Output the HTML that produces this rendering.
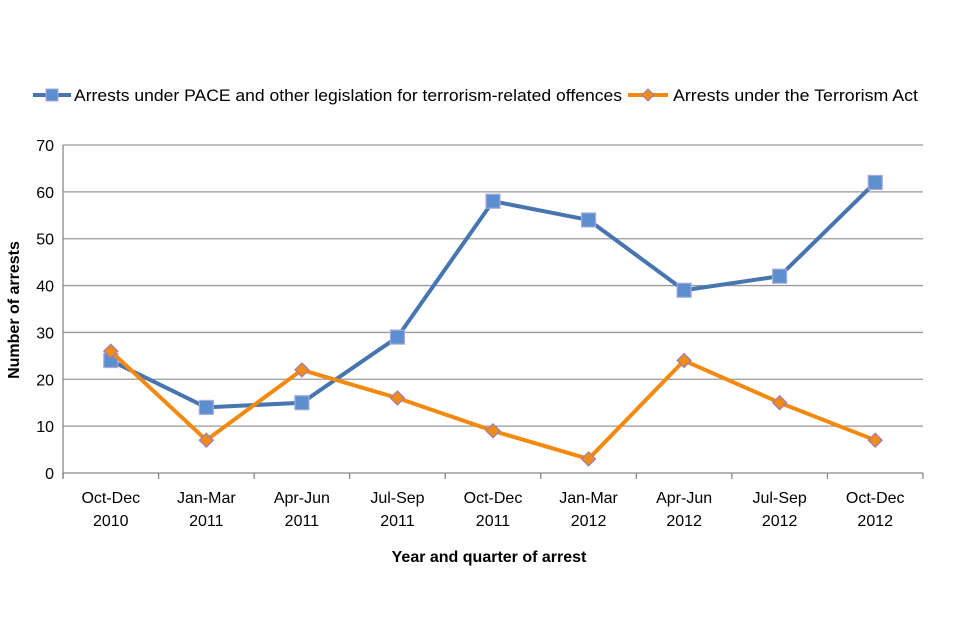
<!DOCTYPE html>
<html><head><meta charset="utf-8"><style>
html,body{margin:0;padding:0;background:#fff;}
svg{display:block;font-family:"Liberation Sans",sans-serif;}
</style></head><body>
<svg id="chart" width="960" height="640" xmlns="http://www.w3.org/2000/svg"></svg>
<script>
const categories = ["Oct-Dec|2010","Jan-Mar|2011","Apr-Jun|2011","Jul-Sep|2011","Oct-Dec|2011","Jan-Mar|2012","Apr-Jun|2012","Jul-Sep|2012","Oct-Dec|2012"];
const paceValues = [24,14,15,29,58,54,39,42,62];
const terrorismActValues = [26,7,22,16,9,3,24,15,7];
const yTicks = [0,10,20,30,40,50,60,70];

const NS="http://www.w3.org/2000/svg";
const svg=document.getElementById('chart');
const L=63,R=923,T=145,B=473,yMax=70;
const band=(R-L)/categories.length;
function x(i){return L+band*(i+0.5);}
function y(v){return B-(v/yMax)*(B-T);}
function mk(tag,attrs,parent){const e=document.createElementNS(NS,tag);for(const k in attrs)e.setAttribute(k,attrs[k]);(parent||svg).appendChild(e);return e;}

const grid=mk('g',{});


yTicks.forEach(t=>{
  const ln=mk('line',{x1:L,x2:R,y1:y(t),y2:y(t),stroke:t===0?'#888':'#999','stroke-width':1.3},grid);
  
  
  const tx=mk('text',{x:L-9,y:y(t)+6,'text-anchor':'end','font-size':16,fill:'#000'});
  tx.textContent=t;
  
  
});
const ax=mk('line',{x1:L,x2:L,y1:T,y2:B+5,stroke:'#888','stroke-width':1.3});


for(let i=0;i<=categories.length;i++){
  const tk=mk('line',{x1:L+band*i,x2:L+band*i,y1:B,y2:B+6,stroke:'#888','stroke-width':1.3});
  
  
}
categories.forEach((c,i)=>{
  const p=c.split('|');
  const t=mk('text',{x:x(i),y:503,'text-anchor':'middle','font-size':16,fill:'#000'});
  
  
  const a=mk('tspan',{x:x(i),dy:0},t);a.textContent=p[0];
  const b=mk('tspan',{x:x(i),dy:23},t);b.textContent=p[1];
});

function series(vals,color,name,shape){
  const g=mk('g',{});
  
  
  const pl=mk('polyline',{points:vals.map((v,i)=>x(i)+','+y(v)).join(' '),fill:'none',stroke:color,'stroke-width':4,'stroke-linejoin':'round'},g);
  
  
  vals.forEach((v,i)=>{
    let m;
    if(shape==='square') m=mk('rect',{x:x(i)-7,y:y(v)-7,width:14,height:14,fill:'#5b8fd0',stroke:'#a9a8d8','stroke-width':1.2},g);
    else m=mk('polygon',{points:`${x(i)},${y(v)-7} ${x(i)+7},${y(v)} ${x(i)},${y(v)+7} ${x(i)-7},${y(v)}`,fill:'#ef8c14',stroke:'#9b7cc0','stroke-width':1.2},g);
    
    
  });
}
series(paceValues,'#4675b0','pace-series','square');
series(terrorismActValues,'#f28a10','terrorism-act-series','diamond');

const lg=mk('g',{});


const e1=mk('g',{},lg);


mk('line',{x1:33,x2:71,y1:95,y2:95,stroke:'#4675b0','stroke-width':4},e1);
mk('rect',{x:46,y:89,width:12,height:12,fill:'#5b8fd0',stroke:'#a9a8d8'},e1);
const t1=mk('text',{x:74,y:101,'font-size':17,fill:'#000',textLength:548,lengthAdjust:'spacingAndGlyphs'},e1);
t1.textContent='Arrests under PACE and other legislation for terrorism-related offences';
const e2=mk('g',{},lg);


mk('line',{x1:628,x2:668,y1:95,y2:95,stroke:'#f28a10','stroke-width':4},e2);
mk('polygon',{points:'648,89 654,95 648,101 642,95',fill:'#ef8c14',stroke:'#9b7cc0'},e2);
const t2=mk('text',{x:673,y:101,'font-size':17,fill:'#000',textLength:245,lengthAdjust:'spacingAndGlyphs'},e2);
t2.textContent='Arrests under the Terrorism Act';

const xt=mk('text',{x:489,y:562,'text-anchor':'middle','font-size':16,'font-weight':'bold',fill:'#000'});
xt.textContent='Year and quarter of arrest';


const yt=mk('text',{x:0,y:0,transform:'translate(19,310) rotate(-90)','text-anchor':'middle','font-size':16,'font-weight':'bold',fill:'#000'});
yt.textContent='Number of arrests';


</script>
</body></html>
